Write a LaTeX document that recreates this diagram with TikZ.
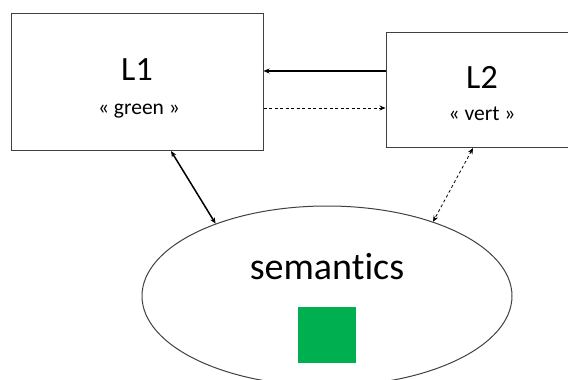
\documentclass[tikz,border=0pt]{standalone}
\usepackage{fontspec}
\setmainfont{Carlito}[Ligatures=NoCommon]
\usetikzlibrary{arrows.meta,shapes.geometric}
\definecolor{boxgray}{HTML}{404040}
\definecolor{semgreen}{HTML}{00B050}
\tikzset{
  box/.style={draw=boxgray,line width=1pt,rectangle,inner sep=0pt},
  bigtxt/.style={font=\fontsize{34}{34}\selectfont,anchor=base,inner sep=0pt},
  smalltxt/.style={font=\fontsize{21.5}{21.5}\selectfont,anchor=base,inner sep=0pt},
  solidarr/.style={line width=1.5pt,-{Stealth[length=6pt,width=5pt]}},
  dasharr/.style={line width=0.8pt,dashed,dash pattern=on 3pt off 2.5pt,-{Stealth[length=6pt,width=5pt]}},
}
\begin{document}
\begin{tikzpicture}[x=1pt,y=-1pt]
\useasboundingbox (0,0) rectangle (568,380);
\clip (0,0) rectangle (568,380);
\node[box,minimum width=252pt,minimum height=137pt] (L1) at (137,81.5) {};
\node[box,minimum width=192pt,minimum height=115pt] (L2) at (482,89.5) {};
\node[draw=boxgray,line width=1pt,ellipse,minimum width=370pt,minimum height=180pt,inner sep=0pt] (sem) at (327,296) {};
\node[bigtxt] (t1) at (137,80) {L1};
\node[smalltxt] (s1) at (139,114) {« green »};
\node[bigtxt] (t2) at (482,88) {L2};
\node[smalltxt] (s2) at (482,120) {« vert »};
\node[font=\fontsize{38}{38}\selectfont,anchor=base,inner sep=0pt] (st) at (327,279) {semantics};
\node[fill=semgreen,minimum width=58pt,minimum height=56pt,inner sep=0pt] (sq) at (327,335) {};
\coordinate (a1) at (171,151);
\coordinate (b2) at (473,148);
\draw[solidarr] (L2.west |- 0,71) -- (L1.east |- 0,71);
\draw[dasharr] (L1.east |- 0,108) -- (L2.west |- 0,108);
\draw[line width=1.5pt,{Stealth[length=6pt,width=5pt]}-{Stealth[length=6pt,width=5pt]}] (a1) -- (sem.147.5);
\draw[line width=0.8pt,dashed,dash pattern=on 3pt off 2.5pt,{Stealth[length=6pt,width=5pt]}-{Stealth[length=6pt,width=5pt]}] (b2) -- (sem.35);
\end{tikzpicture}
\end{document}
